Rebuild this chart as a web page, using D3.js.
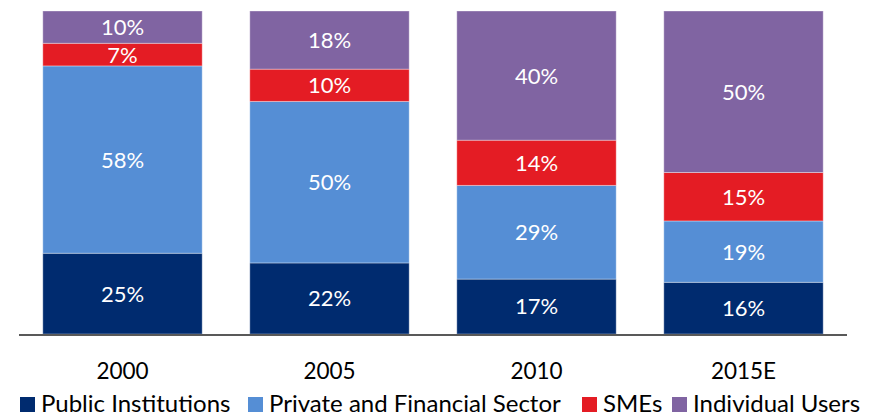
<!DOCTYPE html>
<html>
<head>
<meta charset="utf-8">
<script src="https://cdn.jsdelivr.net/npm/d3@7"></script>
<style>
  body { margin: 0; background: #fff; }
  svg text { font-family: Lato, "Open Sans", sans-serif; }
</style>
</head>
<body>
<div id="chart"></div>
<script>
// Data
const years = ['2000', '2005', '2010', '2015E'];
const seriesNames = ['Public Institutions', 'Private and Financial Sector', 'SMEs', 'Individual Users'];
const publicInst = [25, 22, 17, 16];
const privateFin = [58, 50, 29, 19];
const smes = [7, 10, 14, 15];
const individual = [10, 18, 40, 50];
const seriesColors = ['#002B6F', '#558ED5', '#E41C24', '#8064A2'];

const width = 869, height = 416;
const margin = { left: 19, right: 22, top: 11, bottom: 81 };

const rows = years.map((y, i) => ({
    year: y,
    s0: publicInst[i], s1: privateFin[i], s2: smes[i], s3: individual[i]
}));
const keys = ['s0', 's1', 's2', 's3'];
const stacked = d3.stack().keys(keys)(rows);

const svg = d3.select('#chart').append('svg')
    .attr('width', width)
    .attr('height', height);

const x = d3.scaleBand()
    .domain(years)
    .range([margin.left, width - margin.right])
    .paddingInner(0.23)
    .paddingOuter(0.115);

const y = d3.scaleLinear()
    .domain([0, 100])
    .range([height - margin.bottom - 1, margin.top]);

// Bars
const layers = svg.append('g').selectAll('g')
    .data(stacked)
    .join('g')
    .attr('fill', (d, i) => seriesColors[i]);

layers.selectAll('rect')
    .data(d => d)
    .join('rect')
    .attr('x', d => x(d.data.year))
    .attr('y', d => y(d[1]))
    .attr('width', x.bandwidth())
    .attr('height', d => y(d[0]) - y(d[1]))
    .attr('stroke', 'rgba(255,255,255,0.35)')
    .attr('stroke-width', 1);

// Value labels
layers.selectAll('text')
    .data(d => d)
    .join('text')
    .attr('x', d => x(d.data.year) + x.bandwidth() / 2)
    .attr('y', d => (y(d[0]) + y(d[1])) / 2)
    .attr('dy', '0.36em')
    .attr('text-anchor', 'middle')
    .style('font-size', '22px')
    .style('fill', '#fff')
    .text(d => `${d[1] - d[0]}%`);

// Axis
svg.append('line')
    .attr('x1', margin.left)
    .attr('x2', width - margin.right)
    .attr('y1', height - margin.bottom)
    .attr('y2', height - margin.bottom)
    .attr('stroke', '#595959')
    .attr('stroke-width', 2);

svg.append('g').selectAll('text')
    .data(years)
    .join('text')
    .attr('x', d => x(d) + x.bandwidth() / 2)
    .attr('y', 379)
    .attr('text-anchor', 'middle')
    .style('font-size', '22.5px')
    .style('fill', '#000')
    .text(d => d);

// Legend
const legendX = [20, 248, 582, 672];
const legend = svg.append('g').selectAll('g')
    .data(seriesNames)
    .join('g')
    .attr('transform', (d, i) => `translate(${legendX[i]},397)`);

legend.append('rect')
    .attr('width', 15)
    .attr('height', 15)
    .attr('fill', (d, i) => seriesColors[i]);

legend.append('text')
    .attr('x', 21)
    .attr('y', 15)
    .style('font-size', '24px')
    .style('fill', '#000')
    .text(d => d);
</script>
</body>
</html>
